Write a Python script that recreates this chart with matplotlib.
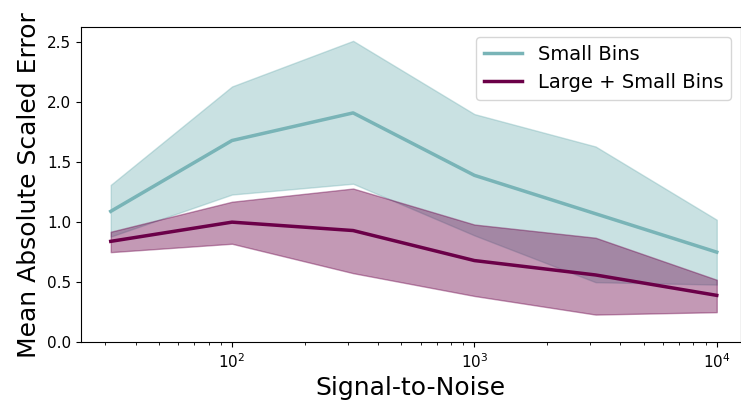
import numpy as np
import matplotlib
matplotlib.use("Agg")
import matplotlib.pyplot as plt

# Datos
snr = [31.6, 100, 316, 1000, 3162, 10000]

small_mean = [1.09, 1.68, 1.91, 1.39, 1.07, 0.75]
small_hi = [1.31, 2.13, 2.51, 1.90, 1.63, 1.02]
small_lo = [0.88, 1.23, 1.32, 0.89, 0.50, 0.48]

large_mean = [0.84, 1.00, 0.93, 0.68, 0.56, 0.39]
large_hi = [0.92, 1.17, 1.28, 0.98, 0.87, 0.52]
large_lo = [0.75, 0.82, 0.575, 0.385, 0.23, 0.25]

teal = "#79b4b7"
purple = "#6b0048"

fig, ax = plt.subplots(figsize=(7.41, 4.04), dpi=100)
ax.fill_between(snr, small_lo, small_hi, color=teal, alpha=0.4, linewidth=1)
ax.plot(snr, small_mean, color=teal, lw=2.5, label="Small Bins")
ax.fill_between(snr, large_lo, large_hi, color=purple, alpha=0.4, linewidth=1)
ax.plot(snr, large_mean, color=purple, lw=2.5, label="Large + Small Bins")

ax.set_xscale("log")
ax.set_xlim(10**1.376, 10**4.1)
ax.set_ylim(0, 2.625)
ax.set_xlabel("Signal-to-Noise", fontsize=18)
ax.set_ylabel("Mean Absolute Scaled Error", fontsize=18)
ax.tick_params(labelsize=11)
ax.legend(loc="upper right", fontsize=14)

fig.subplots_adjust(left=0.109, right=1.0, top=0.933, bottom=0.153)
fig.savefig("out.png")
